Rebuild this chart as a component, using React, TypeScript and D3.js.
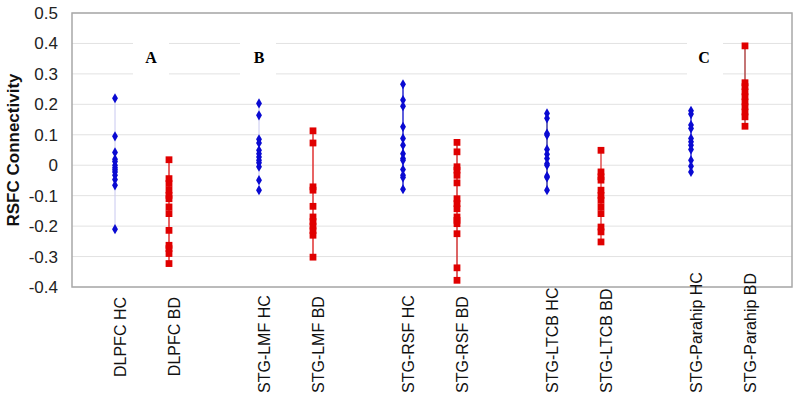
import React from "react";
import * as d3 from "d3";

const groups = ["DLPFC", "STG-LMF", "STG-RSF", "STG-LTCB", "STG-Parahip"];
const subgroups = ["HC", "BD"];
const groupLetters = ["A", "B", "", "", "C"];
const yTicks = [0.5, 0.4, 0.3, 0.2, 0.1, 0, -0.1, -0.2, -0.3, -0.4];

const dlpfcHC = [0.22, 0.095, 0.042, 0.02, 0.012, 0.0, -0.008, -0.015, -0.022, -0.033, -0.047, -0.066, -0.21];
const dlpfcBD = [0.018, -0.044, -0.06, -0.082, -0.099, -0.11, -0.137, -0.159, -0.214, -0.263, -0.274, -0.29, -0.323];
const lmfHC = [0.203, 0.164, 0.085, 0.073, 0.049, 0.038, 0.027, 0.016, 0.008, -0.005, -0.049, -0.082];
const lmfBD = [0.113, 0.073, -0.071, -0.082, -0.135, -0.17, -0.185, -0.2, -0.215, -0.23, -0.302];
const rsfHC = [0.266, 0.214, 0.194, 0.126, 0.088, 0.066, 0.038, 0.022, 0.016, -0.014, -0.033, -0.04, -0.079];
const rsfBD = [0.075, 0.044, -0.005, -0.016, -0.033, -0.058, -0.11, -0.126, -0.143, -0.17, -0.181, -0.192, -0.225, -0.337, -0.378];
const ltcbHC = [0.17, 0.154, 0.104, 0.099, 0.052, 0.036, 0.022, 0.005, 0.0, -0.036, -0.04, -0.082];
const ltcbBD = [0.049, -0.022, -0.038, -0.049, -0.082, -0.099, -0.115, -0.137, -0.159, -0.203, -0.219, -0.252];
const parahipHC = [0.179, 0.168, 0.132, 0.121, 0.088, 0.077, 0.066, 0.052, 0.016, -0.003, -0.022];
const parahipBD = [0.392, 0.271, 0.258, 0.241, 0.225, 0.208, 0.192, 0.175, 0.159, 0.128];

const hcValues = [dlpfcHC, lmfHC, rsfHC, ltcbHC, parahipHC];
const bdValues = [dlpfcBD, lmfBD, rsfBD, ltcbBD, parahipBD];
const hcLineColors = ["#c8c8f0", "#c8c8f0", "#2a2ad0", "#3a3aa0", "#3a3ad8"];
const bdLineColors = ["#e03030", "#e03030", "#d03030", "#e05050", "#b04848"];

const labelFont = "Liberation Sans, Arial, sans-serif";

function measure(text: string, size: number): number {
  const c = document.createElement("canvas").getContext("2d");
  if (!c) return text.length * size * 0.55;
  c.font = `${size}px "Liberation Sans", Arial, sans-serif`;
  return c.measureText(text).width;
}

export default function App() {
  const width = 800;
  const height = 411;
  const left = 72;
  const right = 792;
  const top = 13;
  const bottom = 287;
  const labelTop = bottom + 10;
  const labelMaxBottom = 393;

  const y = d3.scaleLinear().domain([-0.4, 0.5]).range([bottom, top]);
  const xg = d3.scaleBand<string>().domain(groups).range([left, right]);
  const xs = d3.scalePoint<string>().domain(subgroups).range([43, 97]);

  const diamond = d3.symbol().type(d3.symbolDiamond).size(30)();
  const square = d3.symbol().type(d3.symbolSquare).size(46)();

  return (
    <svg
      width={width}
      height={height}
      style={{ position: "absolute", left: 0, top: 0, background: "#fff" }}
    >
      {yTicks.map((t) => (
        <line
          key={"g" + t}
          x1={left}
          x2={right}
          y1={y(t)}
          y2={y(t)}
          stroke="#e2e2e2"
          strokeWidth={1}
        />
      ))}
      {groups.map((g, i) =>
        groupLetters[i] ? (
          <g key={"L" + g}>
            <rect
              x={(xg(g) as number) + xs("HC")! + (i === 0 ? 18 : i === 1 ? -19 : -4)}
              y={36}
              width={36}
              height={44}
              fill="#fff"
            />
            <text
              x={(xg(g) as number) + xs("HC")! + (i === 0 ? 36 : i === 1 ? 0 : 13)}
              y={63}
              textAnchor="middle"
              fontFamily="Liberation Serif, Times New Roman, serif"
              fontWeight="bold"
              fontSize={16}
              fill="#000"
            >
              {groupLetters[i]}
            </text>
          </g>
        ) : null
      )}
      <rect
        x={left}
        y={top}
        width={right - left}
        height={bottom - top}
        fill="none"
        stroke="#a8a8a8"
        strokeWidth={1.5}
      />
      {yTicks.map((t) => (
        <text
          key={"t" + t}
          x={58}
          y={y(t) + 6}
          textAnchor="end"
          fontFamily={labelFont}
          fontSize={17}
          fill="#222"
        >
          {t === 0 ? "0" : String(t)}
        </text>
      ))}
      <text
        transform={`translate(19,${(top + bottom) / 2}) rotate(-90)`}
        textAnchor="middle"
        fontFamily={labelFont}
        fontWeight="bold"
        fontSize={17}
        fill="#111"
      >
        RSFC Connectivity
      </text>
      {groups.map((g, i) => {
        const x0 = xg(g) as number;
        const xh = x0 + xs("HC")!;
        const xb = x0 + xs("BD")!;
        const hc = hcValues[i];
        const bd = bdValues[i];
        return (
          <g key={g}>
            <line
              x1={xh}
              x2={xh}
              y1={y(d3.max(hc)!)}
              y2={y(d3.min(hc)!)}
              stroke={hcLineColors[i]}
              strokeWidth={i < 2 ? 1 : 1.5}
            />
            <line
              x1={xb}
              x2={xb}
              y1={y(d3.max(bd)!)}
              y2={y(d3.min(bd)!)}
              stroke={bdLineColors[i]}
              strokeWidth={1.5}
            />
            {hc.map((v, j) => (
              <path
                key={"h" + j}
                d={diamond!}
                transform={`translate(${xh},${y(v)})`}
                fill="#0a0ad2"
              />
            ))}
            {bd.map((v, j) => (
              <path
                key={"b" + j}
                d={square!}
                transform={`translate(${xb},${y(v)})`}
                fill="#e00000"
              />
            ))}
            {subgroups.map((s) => {
              const label = g + " " + s;
              const len = measure(label, 16);
              const fits = labelTop + len <= labelMaxBottom;
              const ly = fits ? labelTop : labelMaxBottom;
              return (
                <text
                  key={s}
                  transform={`translate(${x0 + xs(s)! + 11},${ly}) rotate(-90)`}
                  textAnchor={fits ? "end" : "start"}
                  fontFamily={labelFont}
                  fontSize={16}
                  fill="#111"
                >
                  {label}
                </text>
              );
            })}
          </g>
        );
      })}
    </svg>
  );
}
